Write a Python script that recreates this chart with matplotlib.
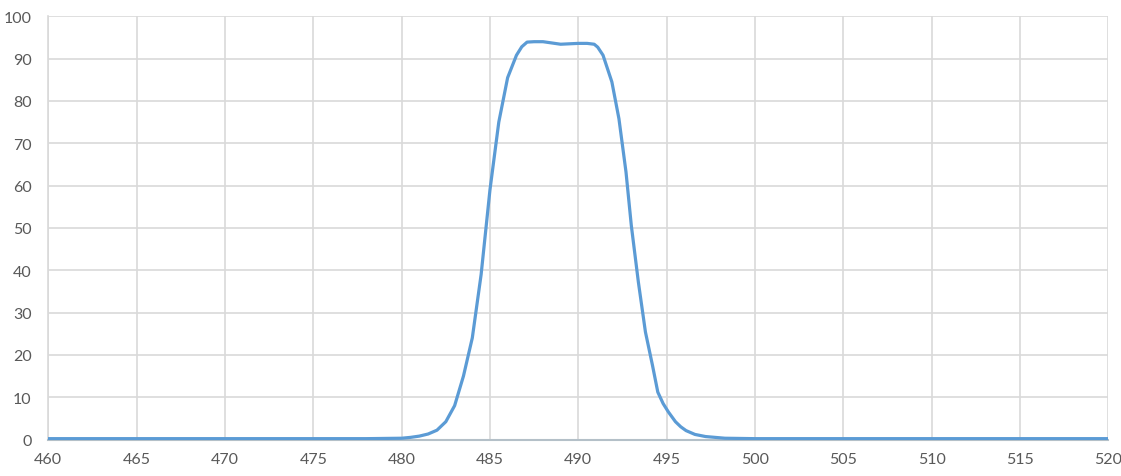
import matplotlib
matplotlib.use("Agg")
import matplotlib.pyplot as plt

wavelength = [460, 465, 470, 475, 478, 479, 480, 480.5, 481, 481.5, 482, 482.5, 483, 483.5,
              484, 484.5, 485, 485.5, 486, 486.5, 486.8, 487.1, 487.5, 488, 488.5, 489, 489.5, 490,
              490.5, 490.9, 491.1, 491.4, 491.9, 492.3, 492.7, 493.0, 493.4, 493.8, 494.2, 494.5,
              494.8, 495.1, 495.5, 495.8, 496.1, 496.6, 497.2, 498.3, 500, 505, 510, 515, 520]
transmission = [0.2, 0.2, 0.2, 0.2, 0.2, 0.25, 0.3, 0.5, 0.8, 1.3, 2.2, 4.2, 8, 15,
                24, 39, 59, 75, 85.5, 90.8, 92.8, 93.9, 94, 94, 93.7, 93.4, 93.5, 93.6,
                93.6, 93.4, 92.7, 90.8, 84.5, 75.8, 63.2, 50.6, 37.2, 25.4, 17.5, 11.2,
                8.5, 6.5, 4.2, 3.0, 2.1, 1.2, 0.7, 0.3, 0.2, 0.2, 0.2, 0.2, 0.2]
x_ticks = list(range(460, 521, 5))
y_ticks = list(range(0, 101, 10))

plt.rcParams['font.family'] = ['Lato', 'DejaVu Sans']

fig = plt.figure(figsize=(11.21, 4.77), dpi=100)
ax = fig.add_axes([48.3 / 1121, 36.5 / 477, 1060 / 1121, 423.2 / 477])

ax.plot(wavelength, transmission, color='#5B9BD5', linewidth=2.3, solid_capstyle='round',
        solid_joinstyle='round', zorder=3)

ax.set_xlim(460, 520)
ax.set_ylim(0, 100)
ax.set_xticks(x_ticks)
ax.set_yticks(y_ticks)
ax.grid(True, color='#D9D9D9', linewidth=1.2)
ax.set_axisbelow(True)
for s in ['top', 'right']:
    ax.spines[s].set_visible(False)
ax.spines['left'].set_color('#D9D9D9')
ax.spines['left'].set_linewidth(1.2)
ax.spines['bottom'].set_color('#B4C0C8')
ax.spines['bottom'].set_linewidth(1.5)
ax.tick_params(axis='both', length=0, labelsize=11.5, colors='#595959')
ax.tick_params(axis='x', pad=9)
ax.tick_params(axis='y', pad=12)

fig.savefig('out.png', dpi=100, facecolor='white')
